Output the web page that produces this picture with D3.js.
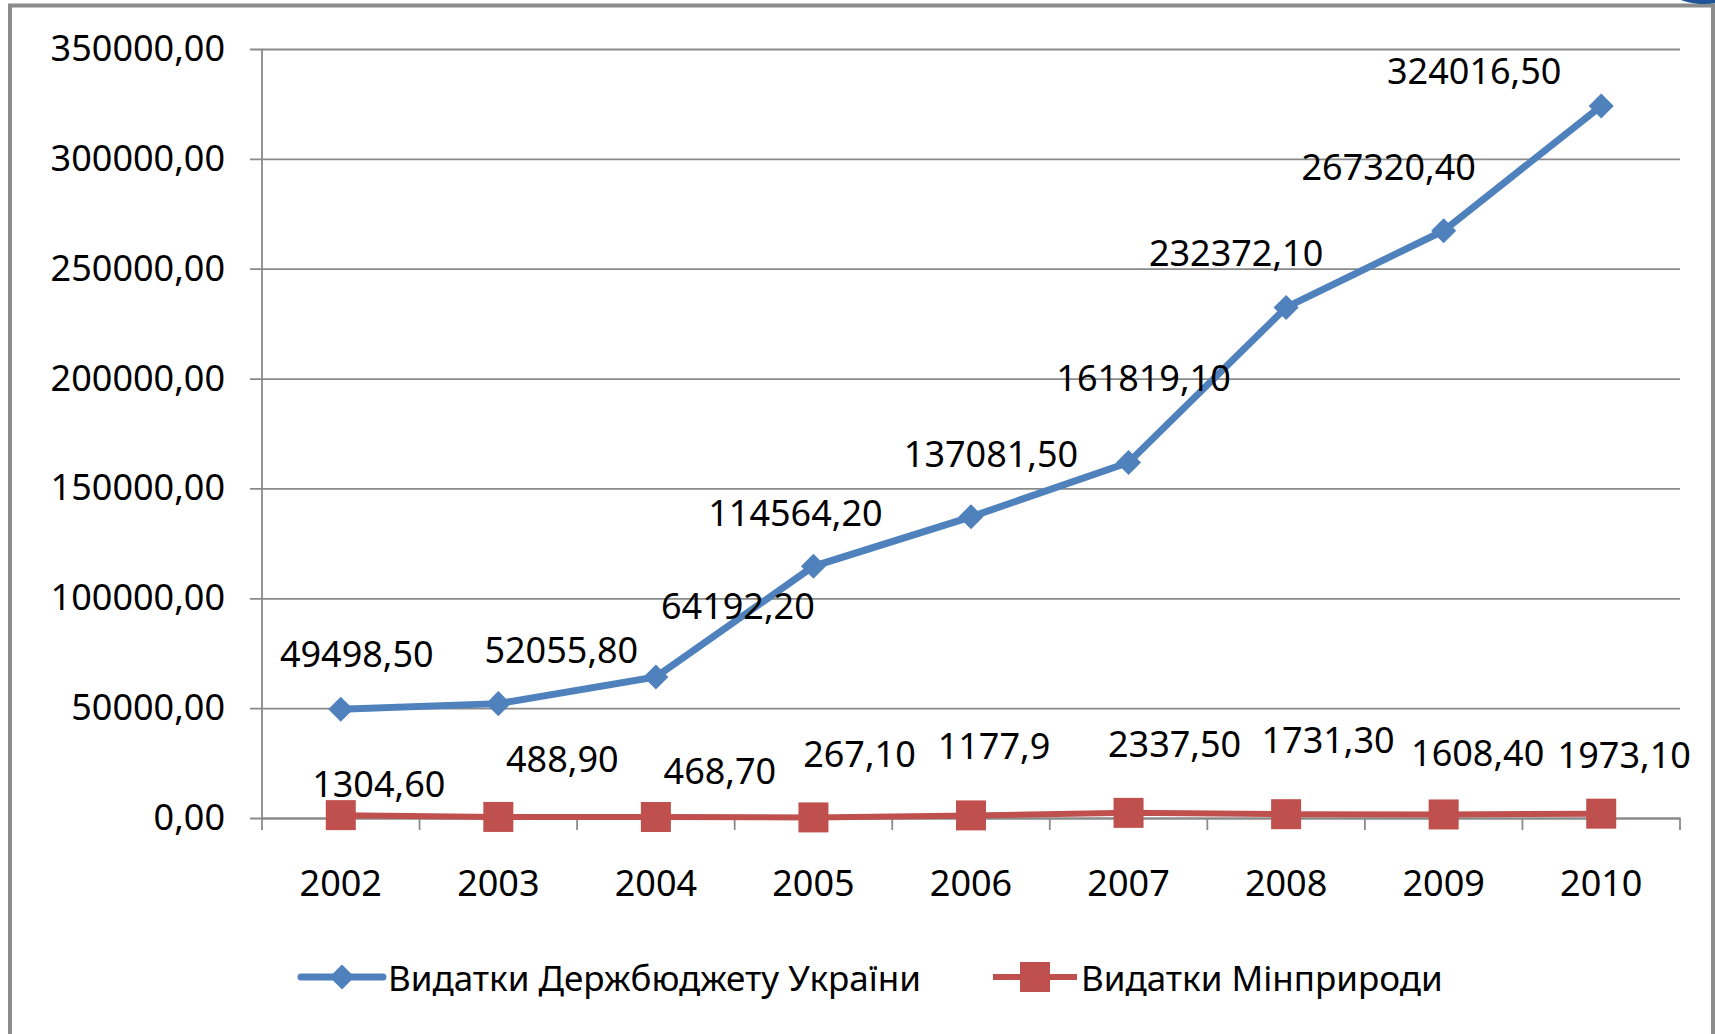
<html>
<head>
<meta charset="utf-8">
<style>
  body { margin: 0; background: #fff; }
  svg text { font-family: "Noto Sans", "Open Sans", sans-serif; fill: #000; }
</style>
</head>
<body>

<svg id="chart"></svg>

<script src="https://cdn.jsdelivr.net/npm/d3@7/dist/d3.min.js"></script>
<script>
// data
var years = ["2002", "2003", "2004", "2005", "2006", "2007", "2008", "2009", "2010"];
var budget = [49498.50, 52055.80, 64192.20, 114564.20, 137081.50, 161819.10, 232372.10, 267320.40, 324016.50];
var ministry = [1304.60, 488.90, 468.70, 267.10, 1177.9, 2337.50, 1731.30, 1608.40, 1973.10];
var budgetLabels = ["49498,50", "52055,80", "64192,20", "114564,20", "137081,50", "161819,10", "232372,10", "267320,40", "324016,50"];
var ministryLabels = ["1304,60", "488,90", "468,70", "267,10", "1177,9", "2337,50", "1731,30", "1608,40", "1973,10"];
var yTicks = [0, 50000, 100000, 150000, 200000, 250000, 300000, 350000];
var seriesNames = ["Видатки Держбюджету України", "Видатки Мінприроди"];

// label nudges (px) relative to each marker, as they were placed in the original
var budgetShift = [[16, -56], [63, -54], [82, -71], [-18, -54], [20, -63], [15, -85], [-50, -55], [-55, -64], [-127, -36]];
var ministryShift = [[38, -32], [64, -58], [64, -46], [46, -64], [23, -70], [46, -69], [42, -75], [34, -62], [23, -59]];

var W = 1715, H = 1034;
var blue = "#4f81bd", red = "#c0504d", grid = "#8a8a8a";

var svg = d3.select("svg#chart")
    .attr("width", W)
    .attr("height", H);

// outer frame
svg.append("rect")
    .attr("x", 10).attr("y", 5.5)
    .attr("width", 1703).attr("height", 1040)
    .attr("fill", "#fff")
    .attr("stroke", "#8c8c8c")
    .attr("stroke-width", 4);

// piece of a neighbouring shape peeking in at the top right
svg.append("ellipse")
    .attr("cx", 1705).attr("cy", -40)
    .attr("rx", 58).attr("ry", 44)
    .attr("fill", "#1f5597");

var margin = {left: 262, right: 1680, top: 49, bottom: 818};

var x = d3.scaleBand()
    .domain(years)
    .range([margin.left, margin.right]);

var y = d3.scaleLinear()
    .domain([0, 350000])
    .range([margin.bottom, margin.top]);

var fmt = function(d) { return d3.format(".2f")(d).replace(".", ","); };

// gridlines + y axis labels
var yAxis = svg.append("g")
    .attr("transform", "translate(" + margin.left + ",0)")
    .call(d3.axisLeft(y).tickValues(yTicks).tickFormat(fmt).tickSize(-(margin.right - margin.left)).tickPadding(37));
yAxis.select(".domain").remove();
yAxis.selectAll(".tick line")
    .attr("x1", -12)
    .attr("stroke", grid)
    .attr("stroke-width", 1.8);
yAxis.selectAll(".tick text")
    .attr("font-size", 36)
    .attr("font-family", "Noto Sans")
    .attr("fill", "#000");

// y axis line
svg.append("line")
    .attr("x1", margin.left).attr("x2", margin.left)
    .attr("y1", margin.top).attr("y2", margin.bottom + 12)
    .attr("stroke", grid)
    .attr("stroke-width", 1.8);

// x axis
var xAxis = svg.append("g")
    .attr("transform", "translate(0," + margin.bottom + ")")
    .call(d3.axisBottom(x).tickSize(0).tickPadding(52));
xAxis.select(".domain")
    .attr("stroke", grid)
    .attr("stroke-width", 1.8);
xAxis.selectAll(".tick text")
    .attr("font-size", 36)
    .attr("font-family", "Noto Sans")
    .attr("fill", "#000");

// category separators
svg.append("g").selectAll("line")
    .data(years)
    .enter().append("line")
    .attr("x1", function(d) { return x(d) + x.bandwidth(); })
    .attr("x2", function(d) { return x(d) + x.bandwidth(); })
    .attr("y1", margin.bottom)
    .attr("y2", margin.bottom + 12)
    .attr("stroke", grid)
    .attr("stroke-width", 1.8);

var cx = function(d, i) { return x(years[i]) + x.bandwidth() / 2; };

var line = d3.line()
    .x(function(d, i) { return cx(d, i); })
    .y(function(d) { return y(d); });

// red series (drawn first, sits under blue)
svg.append("path")
    .datum(ministry)
    .attr("d", line)
    .attr("fill", "none")
    .attr("stroke", red)
    .attr("stroke-width", 6);

svg.append("g").selectAll("rect")
    .data(ministry)
    .enter().append("rect")
    .attr("x", function(d, i) { return cx(d, i) - 15; })
    .attr("y", function(d) { return y(d) - 15; })
    .attr("width", 30)
    .attr("height", 30)
    .attr("fill", red);

// blue series
svg.append("path")
    .datum(budget)
    .attr("d", line)
    .attr("fill", "none")
    .attr("stroke", blue)
    .attr("stroke-width", 7);

var diamond = d3.symbol().type(d3.symbolDiamond2).size(400);

svg.append("g").selectAll("path")
    .data(budget)
    .enter().append("path")
    .attr("d", diamond)
    .attr("transform", function(d, i) { return "translate(" + cx(d, i) + "," + y(d) + ")"; })
    .attr("fill", blue);

// data labels
svg.append("g").selectAll("text")
    .data(budget)
    .enter().append("text")
    .attr("x", function(d, i) { return cx(d, i) + budgetShift[i][0]; })
    .attr("y", function(d, i) { return y(d) + budgetShift[i][1]; })
    .attr("text-anchor", "middle")
    .attr("dominant-baseline", "central")
    .attr("font-size", 36)
    .text(function(d, i) { return budgetLabels[i]; });

svg.append("g").selectAll("text")
    .data(ministry)
    .enter().append("text")
    .attr("x", function(d, i) { return cx(d, i) + ministryShift[i][0]; })
    .attr("y", function(d, i) { return y(d) + ministryShift[i][1]; })
    .attr("text-anchor", "middle")
    .attr("dominant-baseline", "central")
    .attr("font-size", 36)
    .text(function(d, i) { return ministryLabels[i]; });

// legend
var legendY = 977;
var legend = svg.append("g");

var lg1 = legend.append("g").attr("transform", "translate(301," + legendY + ")");
lg1.append("line").attr("x1", 0).attr("x2", 82).attr("stroke", blue).attr("stroke-width", 7).attr("stroke-linecap", "round");
lg1.append("path").attr("d", diamond).attr("transform", "translate(41,0)").attr("fill", blue);
lg1.append("text").attr("x", 87).attr("dominant-baseline", "central").attr("font-size", 35).text(seriesNames[0]);

var lg2 = legend.append("g").attr("transform", "translate(993," + legendY + ")");
lg2.append("line").attr("x1", 0).attr("x2", 84).attr("stroke", red).attr("stroke-width", 6);
lg2.append("rect").attr("x", 27).attr("y", -15).attr("width", 30).attr("height", 30).attr("fill", red);
lg2.append("text").attr("x", 88).attr("dominant-baseline", "central").attr("font-size", 35).text(seriesNames[1]);

</script>
</body>
</html>
